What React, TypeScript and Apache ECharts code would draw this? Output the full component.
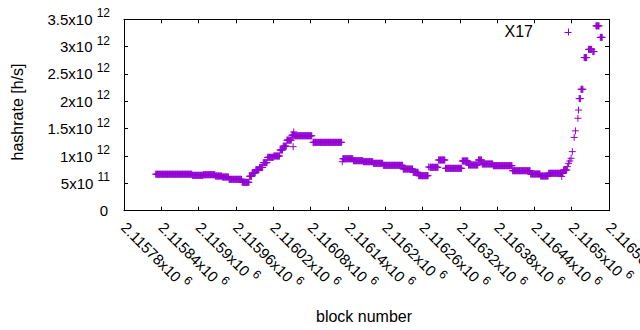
import React, { useEffect, useRef } from "react";
import * as echarts from "echarts";

// ---- axis ranges / tick labels ----
const X_MIN = 2115780;
const X_MAX = 2116560;
const X_STEP = 60;
const xTickMantissas = [
  "2.11578", "2.11584", "2.1159", "2.11596", "2.11602", "2.11608", "2.11614",
  "2.1162", "2.11626", "2.11632", "2.11638", "2.11644", "2.1165", "2.11656",
];
const xTickExponent = "6";
const Y_MIN = 0;
const Y_MAX = 3.5e12;
const Y_STEP = 0.5e12;
const yTickMantissas = ["0", "5", "1", "1.5", "2", "2.5", "3", "3.5"];
const yTickExponents = ["", "11", "12", "12", "12", "12", "12", "12"];

// ---- data: runs of consecutive blocks with a constant hashrate (x1e12 h/s) ----
const runStartBlocks = [
  2115831, 2115890, 2115908, 2115927, 2115938, 2115949, 2115970, 2115982,
  2115986, 2115992, 2115998, 2116004, 2116011, 2116021, 2116031, 2116036,
  2116042, 2116050, 2116055, 2116084, 2116132, 2116149, 2116165, 2116181,
  2116197, 2116229, 2116245, 2116254, 2116272, 2116286, 2116297, 2116324,
  2116334, 2116350, 2116356, 2116374, 2116405, 2116434, 2116450, 2116463,
  2116487, 2116512, 2116515, 2116520, 2116527, 2116534, 2116539, 2116546,
];
const runEndBlocks = [
  2115889, 2115907, 2115926, 2115937, 2115948, 2115969, 2115981, 2115985,
  2115991, 2115997, 2116003, 2116010, 2116020, 2116030, 2116035, 2116041,
  2116049, 2116054, 2116082, 2116130, 2116148, 2116164, 2116180, 2116196,
  2116228, 2116244, 2116253, 2116269, 2116285, 2116296, 2116323, 2116333,
  2116349, 2116355, 2116373, 2116404, 2116433, 2116449, 2116462, 2116486,
  2116492, 2116514, 2116518, 2116524, 2116532, 2116536, 2116544, 2116549,
];
const runHashrates = [
  0.667, 0.647, 0.658, 0.634, 0.616, 0.574, 0.519, 0.63,
  0.69, 0.75, 0.79, 0.878, 0.976, 1.0, 1.11, 1.18,
  1.29, 1.38, 1.37, 1.25, 0.95, 0.914, 0.896, 0.867,
  0.83, 0.762, 0.702, 0.64, 0.794, 0.927, 0.775, 0.909,
  0.836, 0.927, 0.854, 0.823, 0.731, 0.671, 0.634, 0.684,
  0.744, 2.05, 2.22, 2.8, 2.95, 2.91, 3.38, 3.17,
];
// ---- isolated blocks ----
const singleBlocks = [
  2116052, 2116053, 2116131, 2116270, 2116484, 2116493, 2116495, 2116497,
  2116499, 2116501, 2116504, 2116506, 2116510, 2116511,
];
const singleHashrates = [
  1.17, 1.44, 0.896, 0.8, 0.627, 0.805, 0.867, 0.909,
  0.958, 1.08, 1.34, 1.46, 1.69, 1.84,
];

const seriesName = "X17";
const COLOR = "#9400d3";
const FONT = "'Liberation Sans', Arial, sans-serif";
const TICK_FS = 15;
const SUP_FS = 12;
const TITLE_FS = 16;

function buildPoints(): number[][] {
  const pts: number[][] = [];
  runStartBlocks.forEach((s, i) => {
    for (let b = s; b <= runEndBlocks[i]; b++) pts.push([b, runHashrates[i] * 1e12]);
  });
  singleBlocks.forEach((b, i) => pts.push([b, singleHashrates[i] * 1e12]));
  return pts;
}

const rich = {
  m: { fontSize: TICK_FS, lineHeight: 24, fontFamily: FONT, color: "#000" },
  z: { fontSize: TICK_FS, lineHeight: 24, fontFamily: FONT, color: "#000", padding: [0, 2, 0, 0] },
  s: { fontSize: SUP_FS, lineHeight: 15, verticalAlign: "top", fontFamily: FONT, color: "#000" },
};

export default function App() {
  const ref = useRef<HTMLDivElement>(null);
  useEffect(() => {
    document.body.style.margin = "0";
    const chart = echarts.init(ref.current!, undefined, { renderer: "svg" });
    const axisLine = { show: true, onZero: false, lineStyle: { color: "#000", width: 1 } };
    const axisTick = { show: true, inside: true, length: 4, lineStyle: { color: "#000", width: 1 } };
    const arm = 3.5;
    const labelBase = { fontSize: TICK_FS, fontFamily: FONT, color: "#000" };
    chart.setOption({
      animation: false,
      grid: { left: 124, right: 31, top: 19.3, bottom: 119.3, containLabel: false, outerBoundsMode: "none" },
      xAxis: [
        {
          type: "value", min: X_MIN, max: X_MAX, interval: X_STEP, position: "bottom",
          axisLine, axisTick, splitLine: { show: false },
          axisLabel: {
            ...labelBase,
            rotate: -45, margin: 14, showMinLabel: true, showMaxLabel: true, hideOverlap: false,
            formatter: (v: number) => {
              const i = Math.round((v - X_MIN) / X_STEP);
              return `{m|${xTickMantissas[i]}x10 }{s|${xTickExponent}}`;
            },
            rich,
          },
        },
        {
          type: "value", min: X_MIN, max: X_MAX, interval: X_STEP, position: "top",
          axisLine, axisTick, splitLine: { show: false }, axisLabel: { show: false },
        },
      ],
      yAxis: [
        {
          type: "value", min: Y_MIN, max: Y_MAX, interval: Y_STEP, position: "left",
          axisLine, axisTick, splitLine: { show: false },
          axisLabel: {
            ...labelBase,
            margin: 14, showMinLabel: true, showMaxLabel: true,
            formatter: (v: number) => {
              const i = Math.round(v / Y_STEP);
              return yTickExponents[i]
                ? `{m|${yTickMantissas[i]}x10 }{s|${yTickExponents[i]}}`
                : `{z|${yTickMantissas[i]}}`;
            },
            rich,
          },
        },
        {
          type: "value", min: Y_MIN, max: Y_MAX, interval: Y_STEP, position: "right",
          axisLine, axisTick, splitLine: { show: false }, axisLabel: { show: false },
        },
      ],
      graphic: [
        {
          type: "text", x: 364, y: 316,
          style: { text: "block number", font: `${TITLE_FS}px ${FONT}`, fill: "#000", align: "center", verticalAlign: "middle" },
        },
        {
          type: "text", x: 17, y: 112, rotation: Math.PI / 2,
          style: { text: "hashrate [h/s]", font: `${TITLE_FS}px ${FONT}`, fill: "#000", align: "center", verticalAlign: "middle" },
        },
        {
          type: "text", x: 533, y: 31,
          style: { text: seriesName, font: `${TITLE_FS}px ${FONT}`, fill: "#000", align: "right", verticalAlign: "middle" },
        },
        { type: "line", shape: { x1: 568 - arm, y1: 32.5, x2: 568 + arm, y2: 32.5 }, style: { stroke: COLOR, lineWidth: 1 } },
        { type: "line", shape: { x1: 568.5, y1: 32 - arm, x2: 568.5, y2: 32 + arm }, style: { stroke: COLOR, lineWidth: 1 } },
      ],
      series: [
        {
          type: "custom", name: seriesName, xAxisIndex: 0, yAxisIndex: 0, clip: true,
          data: buildPoints(),
          renderItem: (_p: any, api: any) => {
            const c = api.coord([api.value(0), api.value(1)]);
            return {
              type: "group",
              children: [
                { type: "line", shape: { x1: c[0] - arm, y1: c[1], x2: c[0] + arm, y2: c[1] }, style: { stroke: COLOR, lineWidth: 1 } },
                { type: "line", shape: { x1: c[0], y1: c[1] - arm, x2: c[0], y2: c[1] + arm }, style: { stroke: COLOR, lineWidth: 1 } },
              ],
            };
          },
        },
      ],
    });
    return () => chart.dispose();
  }, []);
  return <div ref={ref} style={{ width: 640, height: 330 }} />;
}
